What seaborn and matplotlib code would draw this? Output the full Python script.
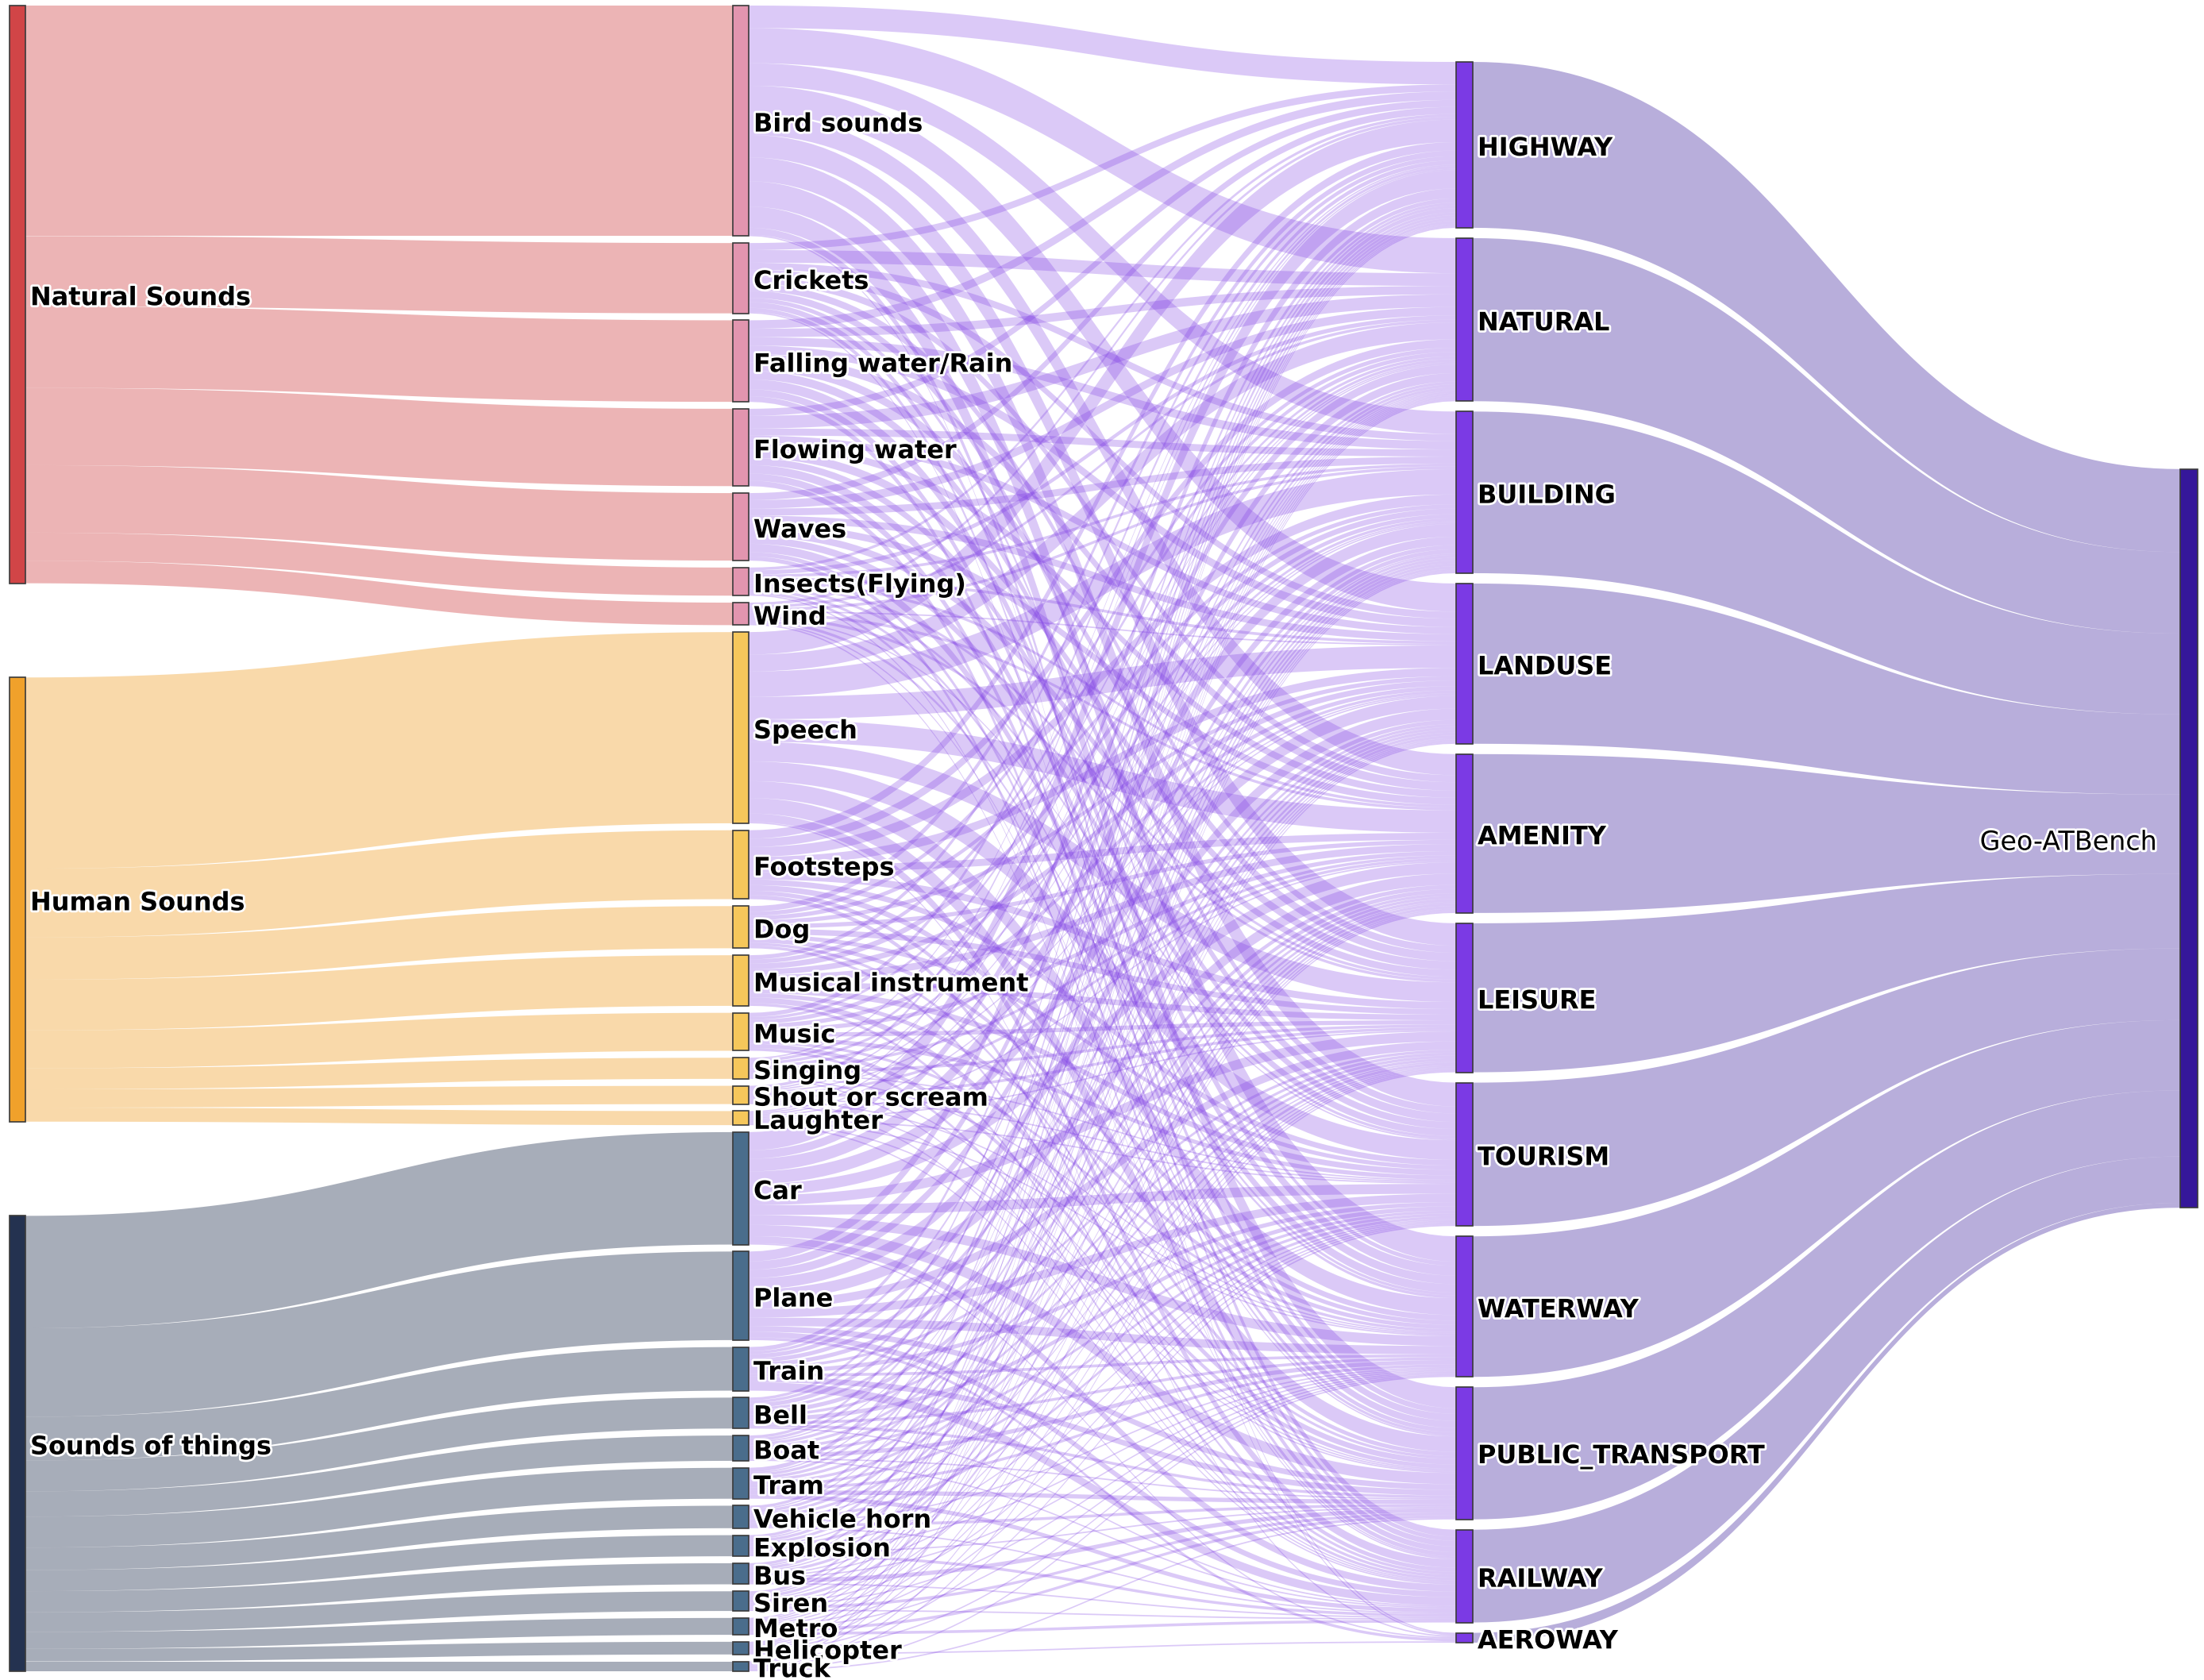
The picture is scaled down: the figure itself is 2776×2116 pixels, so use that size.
import numpy as np
import matplotlib
matplotlib.use("Agg")
import matplotlib.pyplot as plt
import matplotlib.patheffects as pe
import seaborn as sns

sns.set_theme(style="white")
plt.rcParams['font.family'] = ['DejaVu Sans']

# --- data -------------------------------------------------------------
categories = ["Natural Sounds", "Human Sounds", "Sounds of things"]
sound_classes = [
    "Bird sounds", "Crickets", "Falling water/Rain", "Flowing water", "Waves",
    "Insects(Flying)", "Wind",
    "Speech", "Footsteps", "Dog", "Musical instrument", "Music", "Singing",
    "Shout or scream", "Laughter",
    "Car", "Plane", "Train", "Bell", "Boat", "Tram", "Vehicle horn", "Explosion",
    "Bus", "Siren", "Metro", "Helicopter", "Truck",
]
class_category = [0] * 7 + [1] * 8 + [2] * 13
geo_tags = ["HIGHWAY", "NATURAL", "BUILDING", "LANDUSE", "AMENITY", "LEISURE",
            "TOURISM", "WATERWAY", "PUBLIC_TRANSPORT", "RAILWAY", "AEROWAY"]
root_label = "Geo-ATBench"

# links sound class -> geo tag, one value per sound class (order above)
highway = [16, 5, 6, 5, 5, 2, 2, 16, 6, 4, 3, 3, 1, 2, 1, 13, 7, 3, 2, 2, 3, 2, 2, 2, 2, 1, 1, 1]
natural = [25, 9, 6, 9, 6, 3, 2, 12, 6, 3, 3, 2, 2, 1, 1, 6, 6, 2, 2, 2, 1, 1, 1, 1, 1, 1, 1, 1]
building = [16, 5, 6, 5, 5, 2, 2, 18, 7, 3, 4, 3, 2, 1, 1, 9, 6, 3, 3, 1, 2, 2, 2, 2, 2, 1, 1, 1]
landuse = [20, 5, 6, 5, 5, 2, 1, 16, 6, 3, 4, 3, 2, 1, 1, 9, 8, 3, 2, 2, 2, 2, 2, 1, 1, 1, 1, 0]
amenity = [15, 5, 6, 5, 5, 2, 2, 16, 5, 3, 5, 3, 2, 2, 1, 8, 8, 3, 3, 2, 2, 2, 1, 2, 2, 1, 1, 1]
leisure = [16, 5, 6, 6, 5, 2, 2, 14, 5, 4, 4, 3, 2, 2, 1, 7, 6, 2, 2, 2, 2, 1, 2, 1, 1, 1, 1, 1]
tourism = [17, 5, 6, 5, 5, 2, 1, 14, 4, 3, 4, 3, 1, 1, 1, 7, 6, 3, 3, 2, 2, 2, 1, 1, 1, 1, 1, 0]
waterway = [18, 3, 7, 6, 6, 2, 2, 12, 4, 3, 3, 2, 1, 1, 1, 7, 6, 2, 2, 3, 2, 1, 1, 1, 1, 1, 1, 1]
public_transport = [15, 4, 5, 5, 3, 2, 1, 11, 3, 2, 4, 3, 1, 1, 1, 8, 4, 4, 2, 1, 3, 2, 1, 3, 2, 2, 0, 1]
railway = [5, 3, 4, 4, 3, 1, 1, 6, 3, 2, 2, 2, 1, 1, 1, 5, 4, 6, 1, 1, 3, 1, 2, 1, 1, 2, 0, 0]
aeroway = [1, 1, 0, 0, 0, 0, 0, 1, 0, 0, 0, 0, 0, 0, 0, 1, 2, 0, 0, 0, 0, 0, 0, 0, 0, 0, 1, 0]

# --- colours ----------------------------------------------------------
cat_colors = ["#D14547", "#F0A12B", "#243250"]
class_colors = ["#E295AF", "#F6C75B", "#4A6D8C"]
geo_color = "#7B3AE4"
root_color = "#35179A"

# --- layout (figure pixels) ------------------------------------------
W, H = 2776, 2116
k = 1.7704  # px per unit

flows = np.array([highway, natural, building, landuse, amenity, leisure, tourism,
                  waterway, public_transport, railway, aeroway], dtype=float).T
class_vals = flows.sum(axis=1)
geo_vals = flows.sum(axis=0)
cat_vals = np.array([class_vals[np.array(class_category) == c].sum() for c in range(3)])
total = class_vals.sum()

col_left = (12, 32)
col_mid = (923, 943)
col_geo = (1834, 1855)
col_root = (2746, 2768)


def stack(vals, top, bottom, scale):
    h = np.asarray(vals) * scale
    gap = (bottom - top - h.sum()) / max(len(h) - 1, 1)
    y0 = top + np.concatenate([[0], np.cumsum(h[:-1] + gap)])
    return y0, h


cat_y, cat_h = stack(cat_vals, 7, 2105, k)
cls_y, cls_h = stack(class_vals, 7, 2105, k)
geo_y, geo_h = stack(geo_vals, 78, 2069, k)
root_h = total * k * 0.5
root_y = 1056 - root_h / 2

fig = plt.figure(figsize=(W / 100, H / 100), dpi=100)
ax = fig.add_axes([0, 0, 1, 1])
ax.set_xlim(0, W)
ax.set_ylim(H, 0)
ax.axis("off")

t = np.linspace(0, 1, 80)


def band(x0, x1, a_top, a_bot, b_top, b_bot, color, alpha):
    xm = (x0 + x1) / 2
    xs = (1 - t) ** 3 * x0 + 3 * (1 - t) ** 2 * t * xm + 3 * (1 - t) * t ** 2 * xm + t ** 3 * x1
    w0 = (1 - t) ** 3 + 3 * (1 - t) ** 2 * t
    w1 = 1 - w0
    top = w0 * a_top + w1 * b_top
    bot = w0 * a_bot + w1 * b_bot
    ax.fill(np.r_[xs, xs[::-1]], np.r_[top, bot[::-1]], color=color,
            alpha=alpha, lw=0, zorder=1)


# category -> sound class
offs = cat_y.copy()
for i, c in enumerate(class_category):
    h = cls_h[i]
    band(col_left[1], col_mid[0], offs[c], offs[c] + h, cls_y[i], cls_y[i] + h,
         cat_colors[c], 0.4)
    offs[c] += h

# sound class -> geo tag
src_off = cls_y.copy()
tgt_off = geo_y.copy()
src_pos = np.zeros_like(flows)
for i in range(len(sound_classes)):
    for j in range(len(geo_tags)):
        src_pos[i, j] = src_off[i]
        src_off[i] += flows[i, j] * k
for j in range(len(geo_tags)):
    for i in range(len(sound_classes)):
        h = flows[i, j] * k
        if h > 0:
            band(col_mid[1], col_geo[0], src_pos[i, j], src_pos[i, j] + h,
                 tgt_off[j], tgt_off[j] + h, geo_color, 0.27)
        tgt_off[j] += h

# geo tag -> Geo-ATBench (half scale at the target)
roff = root_y
for j in range(len(geo_tags)):
    band(col_geo[1], col_root[0], geo_y[j], geo_y[j] + geo_h[j],
         roff, roff + geo_h[j] * 0.5, root_color, 0.35)
    roff += geo_h[j] * 0.5

# nodes
def node(x, y, h, color):
    ax.add_patch(plt.Rectangle((x[0], y), x[1] - x[0], h, facecolor=color,
                               edgecolor="#3a3a3a", lw=1.2, zorder=3))


for c in range(3):
    node(col_left, cat_y[c], cat_h[c], cat_colors[c])
for i, c in enumerate(class_category):
    node(col_mid, cls_y[i], cls_h[i], class_colors[c])
for j in range(len(geo_tags)):
    node(col_geo, geo_y[j], geo_h[j], geo_color)
node(col_root, root_y, root_h, root_color)

# labels
dy = 5  # small nudge so text sits on the node centre like the original
halo = [pe.withStroke(linewidth=4, foreground="white")]
lab_kw = dict(fontsize=23, fontweight="bold", color="black", va="center",
              ha="left", zorder=5, path_effects=halo)
for c in range(3):
    ax.text(col_left[1] + 6, cat_y[c] + cat_h[c] / 2 + dy, categories[c], **lab_kw)
for i in range(len(sound_classes)):
    ax.text(col_mid[1] + 6, cls_y[i] + cls_h[i] / 2 + dy, sound_classes[i], **lab_kw)
for j in range(len(geo_tags)):
    ax.text(col_geo[1] + 6, geo_y[j] + geo_h[j] / 2 + dy, geo_tags[j], **lab_kw)
ax.text(2717, root_y + root_h / 2 + dy, root_label, fontsize=24, color="black",
        va="center", ha="right", zorder=5, path_effects=halo)

fig.savefig("out.png", dpi=100, facecolor="white")
